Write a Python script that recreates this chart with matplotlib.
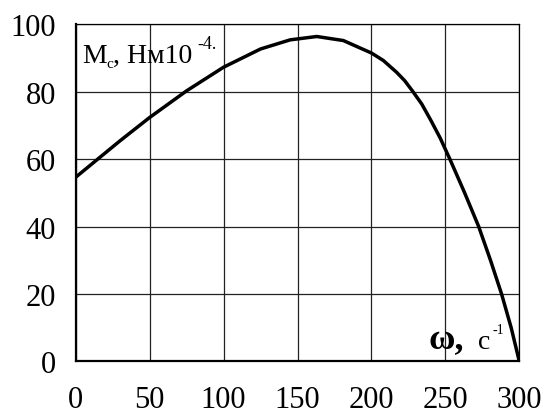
import numpy as np
import matplotlib
matplotlib.use('Agg')
import matplotlib.pyplot as plt

plt.rcParams['font.family'] = ['Liberation Serif', 'DejaVu Serif']

# angular speed, 1/s
omega = [0, 15, 30, 50, 75, 100, 125, 145, 163, 181, 200, 208, 217, 222.5,
         228, 234, 240, 246.5, 253, 263, 272.5, 280.5, 288, 294.5, 300]
# moment Mc, N*m*1e-4
moment = [54.6, 60, 65.4, 72.3, 80.2, 87.2, 92.6, 95.3, 96.3, 95.1, 91.4,
          89.2, 85.7, 83.2, 80, 76.3, 71.6, 66.2, 60, 50, 40, 30, 20, 10, 0]

x_ticks = [0, 50, 100, 150, 200, 250, 300]
y_ticks = [0, 20, 40, 60, 80, 100]

fig = plt.figure(figsize=(5.43, 4.14), dpi=100)
ax = fig.add_axes([0.1394, 0.1244, 0.8170, 0.8152])

ax.plot(omega, moment, c='black', lw=2.5, solid_capstyle='butt',
        solid_joinstyle='round')

ax.set_xlim(0, 300)
ax.set_ylim(0, 100)
ax.set_xticks(x_ticks)
ax.set_yticks(y_ticks)
ax.grid(True, color='#222222', lw=0.9)
ax.set_axisbelow(True)
ax.tick_params(length=0, labelsize=22)
ax.tick_params(axis='y', pad=14)
ax.tick_params(axis='x', pad=17)

for side in ['top', 'right']:
    ax.spines[side].set_linewidth(0.9)
for side in ['left', 'bottom']:
    ax.spines[side].set_linewidth(1.6)

# y axis caption: M_c, Нм10^-4
ax.text(4.2, 88.8, 'M', fontsize=20, ha='left', va='baseline')
ax.text(21, 87.2, 'c', fontsize=11, ha='left', va='baseline')
ax.text(25.5, 88.8, ', Нм10', fontsize=20, ha='left', va='baseline')
ax.text(82.5, 92.8, '-4.', fontsize=13, ha='left', va='baseline')

# x axis caption: ω, c^-1
ax.text(238.5, 4, 'ω,', fontsize=26, fontweight='bold', ha='left', va='baseline')
ax.text(272, 4, 'c', fontsize=20, ha='left', va='baseline')
ax.text(282, 8.3, '-1', fontsize=10, ha='left', va='baseline')

plt.savefig('out.png', dpi=100)
